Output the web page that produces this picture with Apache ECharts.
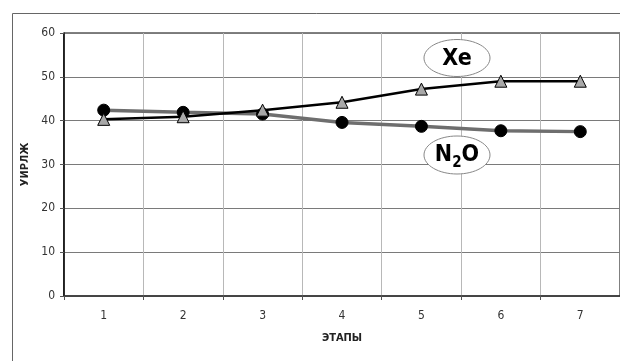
<!DOCTYPE html>
<html><head><meta charset="utf-8">
<script src="https://cdn.jsdelivr.net/npm/echarts@6/dist/echarts.min.js"></script>
<style>html,body{margin:0;padding:0;background:#fff}#c{width:620px;height:361px}</style>
</head><body><div id="c"></div>
<script>
var categories = ['1','2','3','4','5','6','7'];
var xeValues = [40.3, 40.9, 42.4, 44.2, 47.2, 49.0, 49.0];
var n2oValues = [42.4, 41.9, 41.5, 39.6, 38.7, 37.7, 37.5];
var yTicks = [0, 10, 20, 30, 40, 50, 60];
var FONT = '"DejaVu Sans Condensed", "Liberation Sans Narrow", "Liberation Sans", Arial, sans-serif';

var chart = echarts.init(document.getElementById('c'), null, {renderer: 'canvas'});
chart.setOption({
  animation: false,
  backgroundColor: '#fff',
  grid: {left: 64, top: 33, right: -3, bottom: 65, show: true, borderColor: '#000', borderWidth: 1, backgroundColor: 'transparent'},
  xAxis: {
    type: 'category', data: categories, boundaryGap: true,
    name: 'ЭТАПЫ', nameLocation: 'middle', nameGap: 37,
    nameTextStyle: {fontFamily: FONT, fontWeight: 'bold', fontSize: 11, color: '#222'},
    axisLine: {lineStyle: {color: '#333', width: 1.5}},
    axisTick: {show: true, length: 4, lineStyle: {color: '#555'}},
    axisLabel: {fontFamily: FONT, fontSize: 12, color: '#333', margin: 14},
    splitLine: {show: true, lineStyle: {color: '#b8b8b8', width: 1}}
  },
  yAxis: {
    type: 'value', min: 0, max: 60, interval: 10,
    name: 'УИРЛЖ', nameLocation: 'middle', nameGap: 31, nameRotate: 90,
    nameTextStyle: {fontFamily: FONT, fontWeight: 'bold', fontSize: 11, color: '#222'},
    axisLine: {show: true, lineStyle: {color: '#000', width: 1.5}},
    axisTick: {show: true, length: 4, lineStyle: {color: '#555'}},
    axisLabel: {fontFamily: FONT, fontSize: 12, color: '#333', margin: 9,
      formatter: function (v) { return yTicks.indexOf(v) >= 0 ? String(v) : ''; }},
    splitLine: {show: true, lineStyle: {color: '#7a7a7a', width: 1}}
  },
  series: [
    {
      name: 'N2O', type: 'line', data: n2oValues,
      symbol: 'circle', symbolSize: 12,
      itemStyle: {color: '#000', borderColor: '#000'},
      lineStyle: {color: '#6e6e6e', width: 3.5}, z: 3
    },
    {
      name: 'Xe', type: 'line', data: xeValues,
      symbol: 'triangle', symbolSize: 12,
      itemStyle: {color: '#a8a8a8', borderColor: '#000', borderWidth: 1},
      lineStyle: {color: '#000', width: 2.5}, z: 4
    }
  ],
  graphic: [
    {type: 'rect', left: 10, top: 11, shape: {width: 640, height: 400}, style: {fill: 'none', stroke: '#666', lineWidth: 1}, z: 0, silent: true},
    {type: 'ellipse', shape: {cx: 457, cy: 58, rx: 33, ry: 18.5}, style: {fill: '#fff', stroke: '#888', lineWidth: 1}, z: 10},
    {type: 'text', x: 457, y: 59, style: {text: 'Xe', fontFamily: FONT, fontWeight: 'bold', fontSize: 23, fill: '#000', align: 'center', verticalAlign: 'middle'}, z: 11},
    {type: 'ellipse', shape: {cx: 457, cy: 155, rx: 33, ry: 19}, style: {fill: '#fff', stroke: '#888', lineWidth: 1}, z: 10},
    {type: 'text', x: 457, y: 155, style: {
      text: '{n|N}{s|2}{n|O}', align: 'center', verticalAlign: 'middle',
      rich: {n: {fontFamily: FONT, fontWeight: 'bold', fontSize: 23, fill: '#000', verticalAlign: 'middle'},
             s: {fontFamily: FONT, fontWeight: 'bold', fontSize: 15, fill: '#000', padding: [16, 0, 0, 0]}}
    }, z: 11}
  ]
});
</script></body></html>
